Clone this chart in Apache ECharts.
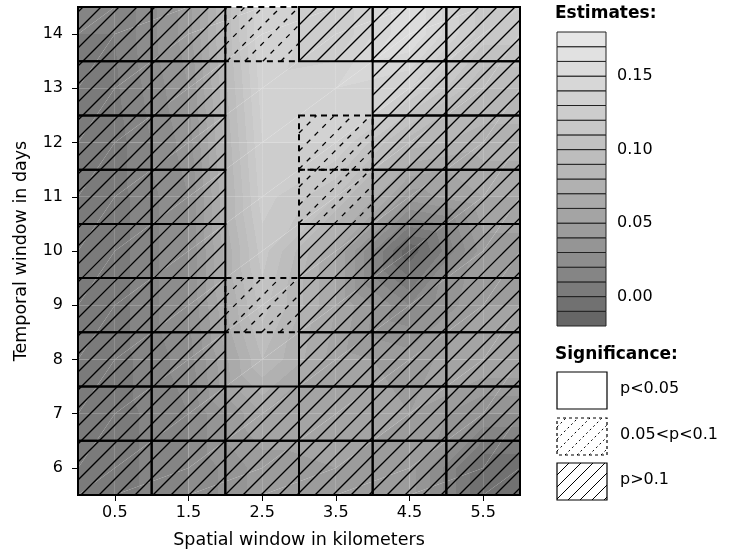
<!DOCTYPE html>
<html>
<head>
<meta charset="utf-8">
<script src="https://cdn.jsdelivr.net/npm/echarts@6/dist/echarts.min.js"></script>
<style>
  html, body { margin: 0; padding: 0; background: #fff; }
  #main { width: 729px; height: 554px; }
</style>
</head>
<body>
<div id="main"></div>
<script>
// cell centres
var spatialKm = [0.5, 1.5, 2.5, 3.5, 4.5, 5.5];
var temporalDays = [6, 7, 8, 9, 10, 11, 12, 13, 14];

// estimates per temporal window (columns = spatial windows)
var est6  = [0.005, 0.020, 0.045, 0.050, 0.045, -0.010];
var est7  = [0.005, 0.020, 0.060, 0.060, 0.050, 0.030];
var est8  = [0.005, 0.025, 0.090, 0.055, 0.045, 0.060];
var est9  = [0.005, 0.030, 0.105, 0.060, 0.020, 0.050];
var est10 = [0.005, 0.030, 0.115, 0.060, -0.018, 0.045];
var est11 = [0.005, 0.030, 0.125, 0.100, 0.045, 0.060];
var est12 = [0.005, 0.035, 0.130, 0.130, 0.085, 0.075];
var est13 = [0.008, 0.040, 0.135, 0.140, 0.130, 0.090];
var est14 = [0.010, 0.045, 0.140, 0.120, 0.160, 0.115];
var estimates = [est6, est7, est8, est9, est10, est11, est12, est13, est14];

// significance: 0 = p<0.05, 1 = 0.05<p<0.1, 2 = p>0.1
var sig6  = [2, 2, 2, 2, 2, 2];
var sig7  = [2, 2, 2, 2, 2, 2];
var sig8  = [2, 2, 0, 2, 2, 2];
var sig9  = [2, 2, 1, 2, 2, 2];
var sig10 = [2, 2, 0, 2, 2, 2];
var sig11 = [2, 2, 0, 1, 2, 2];
var sig12 = [2, 2, 0, 1, 2, 2];
var sig13 = [2, 2, 0, 0, 2, 2];
var sig14 = [2, 2, 1, 2, 2, 2];
var significance = [sig6, sig7, sig8, sig9, sig10, sig11, sig12, sig13, sig14];

// contour levels and key ticks
var levels = [-0.02, -0.01, 0.00, 0.01, 0.02, 0.03, 0.04, 0.05, 0.06, 0.07, 0.08,
              0.09, 0.10, 0.11, 0.12, 0.13, 0.14, 0.15, 0.16, 0.17, 0.18];
var keyTicks = [0.00, 0.05, 0.10, 0.15];
var sigLabels = ['p<0.05', '0.05<p<0.1', 'p>0.1'];

// grey palette (gamma corrected, 0.4 .. 0.9)
var greys = [];
(function () {
  var n = levels.length - 1, a = Math.pow(0.4, 2.2), b = Math.pow(0.9, 2.2);
  for (var k = 0; k < n; k++) {
    var g = Math.round(255 * Math.pow(a + (b - a) * k / (n - 1), 1 / 2.2));
    greys.push('rgb(' + g + ',' + g + ',' + g + ')');
  }
})();

function bandColor(v) {
  var k = 0;
  while (k < greys.length - 1 && v >= levels[k + 1]) k++;
  return greys[k];
}

// linear gradient with hard band stops over one triangle
function triFill(p, v) {
  var x0 = p[0][0], y0 = p[0][1];
  var dx1 = p[1][0] - x0, dy1 = p[1][1] - y0, dx2 = p[2][0] - x0, dy2 = p[2][1] - y0;
  var d = dx1 * dy2 - dx2 * dy1;
  if (Math.abs(d) < 1e-9) return bandColor(v[0]);
  var a = ((v[1] - v[0]) * dy2 - (v[2] - v[0]) * dy1) / d;
  var b = (dx1 * (v[2] - v[0]) - dx2 * (v[1] - v[0])) / d;
  var g = Math.sqrt(a * a + b * b);
  if (g < 1e-9) return bandColor(v[0]);
  var ux = a / g, uy = b / g;
  var ts = p.map(function (q) { return (q[0] - x0) * ux + (q[1] - y0) * uy; });
  var tmin = Math.min.apply(null, ts), tmax = Math.max.apply(null, ts);
  var fs = v[0] + g * tmin, fe = v[0] + g * tmax;
  if (fe - fs < 1e-9) return bandColor(v[0]);
  var stops = [];
  for (var k = 0; k < greys.length; k++) {
    var lo = k === 0 ? -Infinity : levels[k];
    var hi = k === greys.length - 1 ? Infinity : levels[k + 1];
    var s = Math.max(lo, fs), e = Math.min(hi, fe);
    if (s < e) {
      stops.push({ offset: (s - fs) / (fe - fs), color: greys[k] });
      stops.push({ offset: (e - fs) / (fe - fs), color: greys[k] });
    }
  }
  return {
    type: 'linear', global: true,
    x: x0 + tmin * ux, y: y0 + tmin * uy, x2: x0 + tmax * ux, y2: y0 + tmax * uy,
    colorStops: stops
  };
}

// vertices: cell centres plus the plot edges
var xv = [0].concat(spatialKm, [6]);
var yv = [5.5].concat(temporalDays, [14.5]);
function vertexValue(i, j) {
  var c = Math.min(Math.max(i - 1, 0), spatialKm.length - 1);
  var r = Math.min(Math.max(j - 1, 0), temporalDays.length - 1);
  return estimates[r][c];
}

var quadData = [];
for (var j = 0; j < yv.length - 1; j++) {
  for (var i = 0; i < xv.length - 1; i++) quadData.push([i, j]);
}

var cellData = [];
[1, 2].forEach(function (code) {
  temporalDays.forEach(function (d, r) {
    spatialKm.forEach(function (s, c) {
      if (significance[r][c] === code) cellData.push([s, d, code]);
    });
  });
});

// diagonal hatch lines (x + y = const) clipped to a rectangle
function hatch(x0, y0, x1, y1, step, style) {
  var out = [];
  for (var c = Math.ceil((x0 + y0) / step) * step; c <= x1 + y1; c += step) {
    var xa = Math.max(x0, c - y1), xb = Math.min(x1, c - y0);
    if (xb - xa < 0.5) continue;
    out.push({ type: 'line', shape: { x1: xa, y1: c - xa, x2: xb, y2: c - xb }, style: style });
  }
  return out;
}

var FONT = 'DejaVu Sans';
var myChart = echarts.init(document.getElementById('main'));

var legendGraphics = [
  { type: 'text', left: 555, top: 5, style: { text: 'Estimates:', font: 'bold 17px ' + FONT, fill: '#000' } },
  { type: 'text', left: 555, top: 346, style: { text: 'Significance:', font: 'bold 17px ' + FONT, fill: '#000' } }
];
var boxTops = [372, 418, 463];
boxTops.forEach(function (top, n) {
  var children = [];
  if (n === 1) children = hatch(557, top, 607, top + 37, 12, { stroke: '#000', lineWidth: 1, lineDash: [2, 3] });
  if (n === 2) children = hatch(557, top, 607, top + 37, 12, { stroke: '#000', lineWidth: 1 });
  children.push({
    type: 'rect', shape: { x: 557, y: top, width: 50, height: 37 },
    style: { fill: 'none', stroke: '#000', lineWidth: 1.2, lineDash: n === 1 ? [3, 3] : null }
  });
  legendGraphics.push({ type: 'group', children: children });
  legendGraphics.push({
    type: 'text', left: 620, top: top + 9,
    style: { text: sigLabels[n], font: '16px ' + FONT, fill: '#000' }
  });
});

var option = {
  animation: false,
  textStyle: { fontFamily: FONT },
  grid: [
    { left: 78, top: 7, width: 442, height: 490 },
    { left: 557, top: 32, width: 49, height: 294 }
  ],
  xAxis: [{
    type: 'value', gridIndex: 0, min: 0, max: 6,
    axisLine: { show: false },
    splitLine: { show: false },
    axisTick: { customValues: spatialKm, length: 6, lineStyle: { color: '#000' } },
    axisLabel: {
      customValues: spatialKm, margin: 10, fontSize: 16, color: '#000',
      formatter: function (v) { return v.toFixed(1); }
    },
    name: 'Spatial window in kilometers', nameLocation: 'middle', nameGap: 36,
    nameTextStyle: { fontSize: 17.5, color: '#000' }
  }, {
    type: 'value', gridIndex: 1, min: 0, max: 1, show: false
  }],
  yAxis: [{
    type: 'value', gridIndex: 0, min: 5.5, max: 14.5,
    axisLine: { show: false },
    splitLine: { show: false },
    axisTick: { customValues: temporalDays, length: 6, lineStyle: { color: '#000' } },
    axisLabel: {
      customValues: temporalDays, margin: 15, fontSize: 16, color: '#000',
      formatter: function (v) { return String(v); }
    },
    name: 'Temporal window in days', nameLocation: 'middle', nameGap: 48,
    nameTextStyle: { fontSize: 17.5, color: '#000' }
  }, {
    type: 'value', gridIndex: 1, position: 'right', min: -0.02, max: 0.18,
    axisLine: { show: false },
    splitLine: { show: false },
    axisTick: { customValues: keyTicks, length: 5, lineStyle: { color: '#000' } },
    axisLabel: {
      customValues: keyTicks, margin: 11, fontSize: 16, color: '#000',
      formatter: function (v) { return v.toFixed(2); }
    }
  }],
  graphic: legendGraphics,
  series: [{
    // filled contour surface
    type: 'custom', xAxisIndex: 0, yAxisIndex: 0, silent: true, clip: true,
    data: quadData,
    renderItem: function (params, api) {
      var i = api.value(0), j = api.value(1);
      var corners = [[i, j], [i + 1, j], [i + 1, j + 1], [i, j + 1]];
      var pts = corners.map(function (q) { return api.coord([xv[q[0]], yv[q[1]]]); });
      var vals = corners.map(function (q) { return vertexValue(q[0], q[1]); });
      return {
        type: 'group',
        children: [
          { type: 'polygon', shape: { points: [pts[0], pts[1], pts[2]] }, style: { fill: triFill([pts[0], pts[1], pts[2]], [vals[0], vals[1], vals[2]]) } },
          { type: 'polygon', shape: { points: [pts[0], pts[2], pts[3]] }, style: { fill: triFill([pts[0], pts[2], pts[3]], [vals[0], vals[2], vals[3]]) } }
        ]
      };
    }
  }, {
    // significance overlay
    type: 'custom', xAxisIndex: 0, yAxisIndex: 0, silent: true,
    data: cellData,
    renderItem: function (params, api) {
      var x = api.value(0), y = api.value(1), code = api.value(2);
      var tl = api.coord([x - 0.5, y + 0.5]), br = api.coord([x + 0.5, y - 0.5]);
      var lineStyle = code === 1
        ? { stroke: '#000', lineWidth: 1.3, lineDash: [5, 6] }
        : { stroke: '#000', lineWidth: 1.3 };
      var children = hatch(tl[0], tl[1], br[0], br[1], 18, lineStyle);
      children.push({
        type: 'rect', z2: code === 1 ? 1 : 2,
        shape: { x: tl[0], y: tl[1], width: br[0] - tl[0], height: br[1] - tl[1] },
        style: { fill: 'none', stroke: '#000', lineWidth: 2, lineDash: code === 1 ? [6, 5] : null }
      });
      return { type: 'group', children: children };
    }
  }, {
    // colour key
    type: 'custom', xAxisIndex: 1, yAxisIndex: 1, silent: true,
    data: greys.map(function (c, k) { return [0, levels[k], levels[k + 1]]; }),
    renderItem: function (params, api) {
      var p1 = api.coord([0, api.value(2)]), p2 = api.coord([1, api.value(1)]);
      return {
        type: 'rect',
        shape: { x: p1[0], y: p1[1], width: p2[0] - p1[0], height: p2[1] - p1[1] },
        style: { fill: greys[params.dataIndex], stroke: '#222', lineWidth: 1 }
      };
    }
  }]
};

myChart.setOption(option);
window.onresize = function () {
  myChart.resize();
};
</script>
</body>
</html>
